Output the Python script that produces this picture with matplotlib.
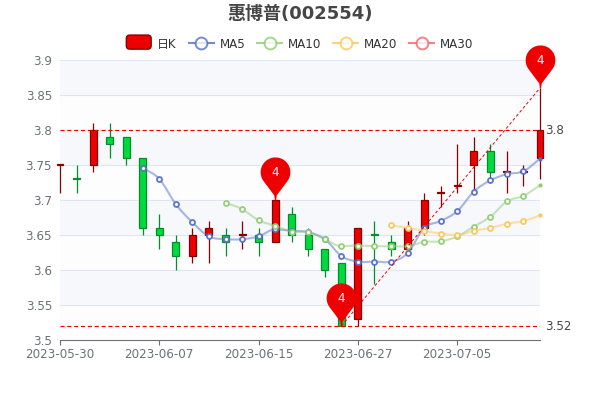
import matplotlib
matplotlib.use('Agg')
import matplotlib.pyplot as plt
import numpy as np
from matplotlib.lines import Line2D
from matplotlib.patches import FancyBboxPatch, PathPatch
from matplotlib.legend_handler import HandlerPatch
from matplotlib.path import Path

plt.rcParams['font.family'] = ['DejaVu Sans', 'Noto Sans CJK SC']

# ---------- data ----------
dates = ['2023-05-30', '2023-05-31', '2023-06-01', '2023-06-02', '2023-06-05', '2023-06-06',
         '2023-06-07', '2023-06-08', '2023-06-09', '2023-06-12', '2023-06-13', '2023-06-14',
         '2023-06-15', '2023-06-16', '2023-06-19', '2023-06-20', '2023-06-21', '2023-06-26',
         '2023-06-27', '2023-06-28', '2023-06-29', '2023-06-30', '2023-07-03', '2023-07-04',
         '2023-07-05', '2023-07-06', '2023-07-07', '2023-07-10', '2023-07-11', '2023-07-12']

opens = [3.75, 3.73, 3.75, 3.79, 3.79, 3.76, 3.66, 3.64, 3.62, 3.65,
         3.65, 3.65, 3.65, 3.64, 3.68, 3.65, 3.63, 3.61, 3.53, 3.65,
         3.64, 3.63, 3.66, 3.71, 3.72, 3.75, 3.77, 3.74, 3.74, 3.76]
closes = [3.75, 3.73, 3.80, 3.78, 3.76, 3.66, 3.65, 3.62, 3.65, 3.66,
          3.64, 3.65, 3.64, 3.70, 3.65, 3.63, 3.60, 3.52, 3.66, 3.65,
          3.63, 3.66, 3.70, 3.71, 3.72, 3.77, 3.74, 3.74, 3.74, 3.80]
lows = [3.71, 3.71, 3.74, 3.76, 3.75, 3.65, 3.63, 3.60, 3.61, 3.61,
        3.62, 3.63, 3.62, 3.64, 3.64, 3.62, 3.59, 3.52, 3.52, 3.58,
        3.62, 3.63, 3.65, 3.69, 3.71, 3.71, 3.73, 3.71, 3.72, 3.73]
highs = [3.75, 3.75, 3.81, 3.81, 3.79, 3.76, 3.68, 3.65, 3.66, 3.67,
         3.66, 3.67, 3.66, 3.70, 3.69, 3.66, 3.63, 3.61, 3.66, 3.67,
         3.65, 3.67, 3.71, 3.72, 3.78, 3.79, 3.78, 3.77, 3.75, 3.86]

ma5 = [None] * 5 + [3.746, 3.730, 3.694, 3.668, 3.648, 3.644, 3.644, 3.648, 3.658, 3.656,
                    3.654, 3.644, 3.620, 3.612, 3.612, 3.612, 3.624, 3.660, 3.670, 3.684,
                    3.712, 3.728, 3.737, 3.741, 3.759]
ma10 = [None] * 10 + [3.696, 3.687, 3.671, 3.663, 3.655, 3.654, 3.644, 3.634, 3.635, 3.634,
                      3.634, 3.634, 3.640, 3.641, 3.648, 3.662, 3.676, 3.698, 3.706, 3.721]
ma20 = [None] * 20 + [3.664, 3.660, 3.656, 3.652, 3.650, 3.656, 3.660, 3.666, 3.670, 3.678]

y_ticks = [3.5, 3.55, 3.6, 3.65, 3.7, 3.75, 3.8, 3.85, 3.9]
y_labels = ['3.5', '3.55', '3.6', '3.65', '3.7', '3.75', '3.8', '3.85', '3.9']
x_ticks = [0, 6, 12, 18, 24]

hline_values = [3.8, 3.52]
hline_labels = ['3.8', '3.52']
pin_idx = [13, 17, 29]
pin_values = [3.70, 3.52, 3.86]
pin_label = '4'

# ---------- colours ----------
up_color, up_border = '#ec0000', '#8a0000'
down_color, down_border = '#00da3c', '#008f28'
ma_colors = {'MA5': '#5470c6', 'MA10': '#91cc75', 'MA20': '#fac858', 'MA30': '#ee6666'}
text_color = '#6e7079'
mark_red = '#ee0000'


def smooth_path(xs, ys, k=0.35):
    # bezier through the points, tangents flattened at local extremes
    verts = [(xs[0], ys[0])]
    codes = [Path.MOVETO]
    n = len(xs)
    slopes = []
    for i in range(n):
        a, b = max(i - 1, 0), min(i + 1, n - 1)
        d0, d1 = ys[i] - ys[a], ys[b] - ys[i]
        if d0 * d1 < 0:
            slopes.append(0)
        else:
            slopes.append((ys[b] - ys[a]) / (xs[b] - xs[a]))
    for i in range(n - 1):
        dx = xs[i + 1] - xs[i]
        verts += [(xs[i] + dx * k, ys[i] + slopes[i] * dx * k),
                  (xs[i + 1] - dx * k, ys[i + 1] - slopes[i + 1] * dx * k),
                  (xs[i + 1], ys[i + 1])]
        codes += [Path.CURVE4] * 3
    return Path(verts, codes)


fig = plt.figure(figsize=(6, 4), dpi=100)
ax = fig.add_axes([0.1, 0.15, 0.8, 0.7])
x = np.arange(len(dates))

# striped background and grid
for i in range(len(y_ticks) - 1):
    band = '#f6f8fc' if (i % 2 == 1) else '#fdfdfe'
    ax.axhspan(y_ticks[i], y_ticks[i + 1], color=band, lw=0, zorder=0)
for t in y_ticks[1:]:
    ax.axhline(t, color='#e0e6f1', lw=0.8, zorder=1)

# candlesticks
for i in x:
    is_up = closes[i] >= opens[i] and not (closes[i] == opens[i] and i in (1, 19))
    face = up_color if is_up else down_color
    edge = up_border if is_up else down_border
    ax.vlines(i, lows[i], highs[i], color=edge, lw=0.9, zorder=2, clip_on=False)
    bottom = min(opens[i], closes[i])
    height = max(abs(closes[i] - opens[i]), 0.0015)
    ax.bar(i, height, bottom=bottom, width=0.42, color=face, edgecolor=edge,
           linewidth=0.9, zorder=3, clip_on=False)

# moving averages
for name, vals in [('MA5', ma5), ('MA10', ma10), ('MA20', ma20)]:
    xs = [i for i, v in enumerate(vals) if v is not None]
    ys = [v for v in vals if v is not None]
    c = ma_colors[name]
    ax.add_patch(PathPatch(smooth_path(xs, ys), fc='none', ec=c, lw=1.5, alpha=0.5,
                           zorder=4, clip_on=False))
    ax.plot(xs[:-1], ys[:-1], ls='none', marker='o', ms=3.6, mfc='white', mec=c, mew=1.3,
            alpha=0.95, zorder=5, clip_on=False)
    ax.plot(xs[-1:], ys[-1:], ls='none', marker='o', ms=3, mfc=c, mec=c, mew=0,
            zorder=5, clip_on=False)

# mark lines
for v, lab in zip(hline_values, hline_labels):
    ax.plot([0, len(dates) - 1], [v, v], color=mark_red, lw=0.85, dashes=(3.4, 2.4), zorder=6)
    ax.annotate(lab, xy=(len(dates) - 1, v), xytext=(5, 0), textcoords='offset pixels',
                va='center', ha='left', fontsize=8.6, color='#464646', annotation_clip=False)
ax.plot([pin_idx[1], pin_idx[2]], [pin_values[1], pin_values[2]], color=mark_red, lw=0.7,
        dashes=(3, 2.4), zorder=6, clip_on=False)

# mark points (pin shape, tip sits on the value)
t = np.linspace(-0.2 * np.pi, 1.2 * np.pi, 50)
r = 0.345
head = np.column_stack([r * np.cos(t), 1 - r + r * np.sin(t)])
pin_verts = np.vstack([[[0.012, 0.0]], [[0.03, 0.12]], head, [[-0.03, 0.12]], [[-0.012, 0.0]], [[0.012, 0.0]]])
pin_marker = Path(pin_verts, closed=True)
for i, v in zip(pin_idx, pin_values):
    ax.plot([i], [v], ls='none', marker=pin_marker, ms=62, mfc=mark_red, mec='none',
            zorder=7, clip_on=False)
    ax.annotate(pin_label, xy=(i, v), xytext=(0, 28), textcoords='offset pixels', ha='center',
                va='center', color='#f6f6f6', fontsize=8.6, zorder=8, annotation_clip=False)

# axes
ax.set_xlim(0, len(dates) - 1)
ax.set_ylim(3.5, 3.9)
ax.set_yticks(y_ticks)
ax.set_yticklabels(y_labels, fontsize=8.6, color=text_color)
ax.set_xticks(x_ticks)
ax.set_xticklabels([dates[i] for i in x_ticks], fontsize=8.6, color=text_color)
ax.tick_params(axis='y', length=0, pad=5.8)
ax.tick_params(axis='x', length=3.6, width=0.8, color=text_color, pad=2.4)
for s in ['top', 'left', 'right']:
    ax.spines[s].set_visible(False)
ax.spines['bottom'].set_color(text_color)
ax.spines['bottom'].set_linewidth(0.8)
ax.spines['bottom'].set_zorder(9)


# legend
def rounded_key(legend, orig_handle, xdescent, ydescent, width, height, fontsize):
    return FancyBboxPatch((xdescent, ydescent - 1.5), width, height + 3,
                          boxstyle='round,pad=0,rounding_size=2.5')


handles = [FancyBboxPatch((0, 0), 1, 1, fc=up_color, ec=up_border, lw=1.0)]
labels = ['日K']
for name, c in ma_colors.items():
    handles.append(Line2D([0], [0], color=c, lw=1.5, alpha=0.8, marker='o', ms=8.5, mfc='white', mec=c, mew=1.4))
    labels.append(name)
leg = fig.legend(handles, labels, loc='center', bbox_to_anchor=(0.5, 0.889), ncols=5, frameon=False,
                 fontsize=8.6, handlelength=2.08, handleheight=0.9, handletextpad=0.5, columnspacing=1.0,
                 labelcolor='#333333', borderpad=0, borderaxespad=0,
                 handler_map={FancyBboxPatch: HandlerPatch(patch_func=rounded_key)})

fig.text(0.5, 0.9655, '惠博普(002554)', ha='center', va='center', fontsize=13, fontweight='bold', color='#464646')

fig.savefig('out.png', dpi=100)
